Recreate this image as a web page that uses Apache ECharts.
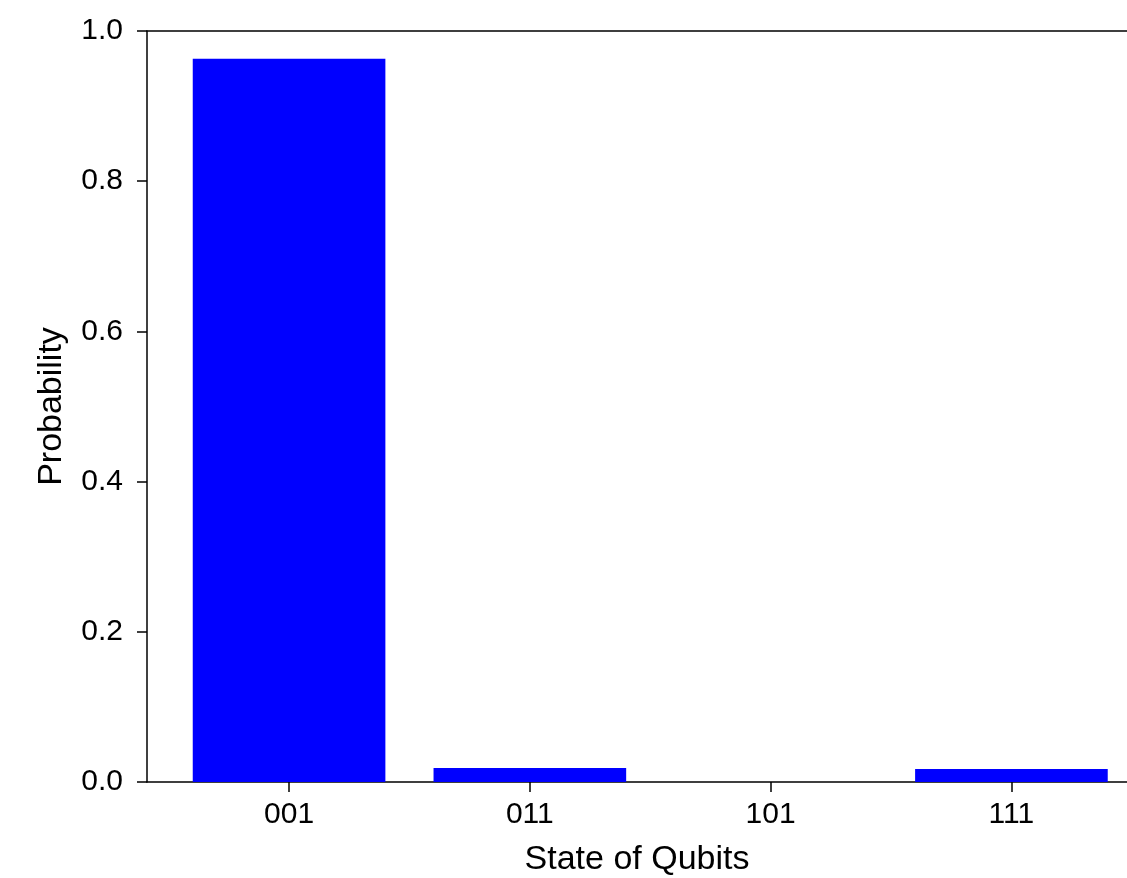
<!DOCTYPE html>
<html>
<head>
<meta charset="utf-8">
<script src="https://cdn.jsdelivr.net/npm/echarts@6/dist/echarts.min.js"></script>
<style>
  html, body { margin: 0; padding: 0; background: #fff; }
  #chart { width: 1127px; height: 878px; }
</style>
</head>
<body>
<div id="chart"></div>
<script>
// Measured probability of each basis state
const states = ['001', '011', '101', '111'];
const probabilities = [0.963, 0.0186, 0, 0.0173];
const yTicks = [0, 0.2, 0.4, 0.6, 0.8, 1.0];

const FONT = 'Liberation Sans, Arial, Helvetica, sans-serif';
const X_MIN = -0.59, X_MAX = 3.48;
const GRID_LEFT = 147, GRID_WIDTH = 980;
const pxPerUnit = GRID_WIDTH / (X_MAX - X_MIN);
const positions = states.map((_, i) => i);

const chart = echarts.init(document.getElementById('chart'), null, { renderer: 'canvas' });

chart.setOption({
  animation: false,
  backgroundColor: '#ffffff',
  grid: {
    left: GRID_LEFT, top: 31, width: GRID_WIDTH, height: 751,
    containLabel: false, outerBoundsMode: 'none'
  },
  xAxis: [
    {
      type: 'value',
      min: X_MIN,
      max: X_MAX,
      name: 'State of Qubits',
      nameLocation: 'middle',
      nameGap: 61,
      nameTextStyle: { fontFamily: FONT, fontSize: 34, color: '#000' },
      axisLine: { show: true, onZero: false, lineStyle: { color: '#000', width: 1.5 } },
      axisTick: { show: true, customValues: positions, length: 10, inside: false, lineStyle: { color: '#000', width: 1.5 } },
      axisLabel: {
        customValues: positions,
        formatter: v => states[Math.round(v)],
        fontFamily: FONT, fontSize: 30, color: '#000', margin: 18
      },
      splitLine: { show: false }
    },
    {
      type: 'value',
      position: 'top',
      min: X_MIN,
      max: X_MAX,
      axisLine: { show: true, onZero: false, lineStyle: { color: '#000', width: 1.5 } },
      axisTick: { show: false },
      axisLabel: { show: false },
      splitLine: { show: false }
    }
  ],
  yAxis: {
    type: 'value',
    min: 0,
    max: 1,
    interval: 0.2,
    name: 'Probability',
    nameLocation: 'middle',
    nameGap: 78,
    nameTextStyle: { fontFamily: FONT, fontSize: 34, color: '#000' },
    axisLine: { show: true, onZero: false, lineStyle: { color: '#000', width: 1.5 } },
    axisTick: { show: true, length: 10, inside: false, lineStyle: { color: '#000', width: 1.5 } },
    axisLabel: {
      formatter: v => v.toFixed(1),
      fontFamily: FONT, fontSize: 30, color: '#000', margin: 24
    },
    splitLine: { show: false }
  },
  series: [{
    type: 'bar',
    xAxisIndex: 0,
    barWidth: 0.8 * pxPerUnit,
    itemStyle: { color: '#0000ff' },
    data: probabilities.map((p, i) => [positions[i], p])
  }]
});
</script>
</body>
</html>
